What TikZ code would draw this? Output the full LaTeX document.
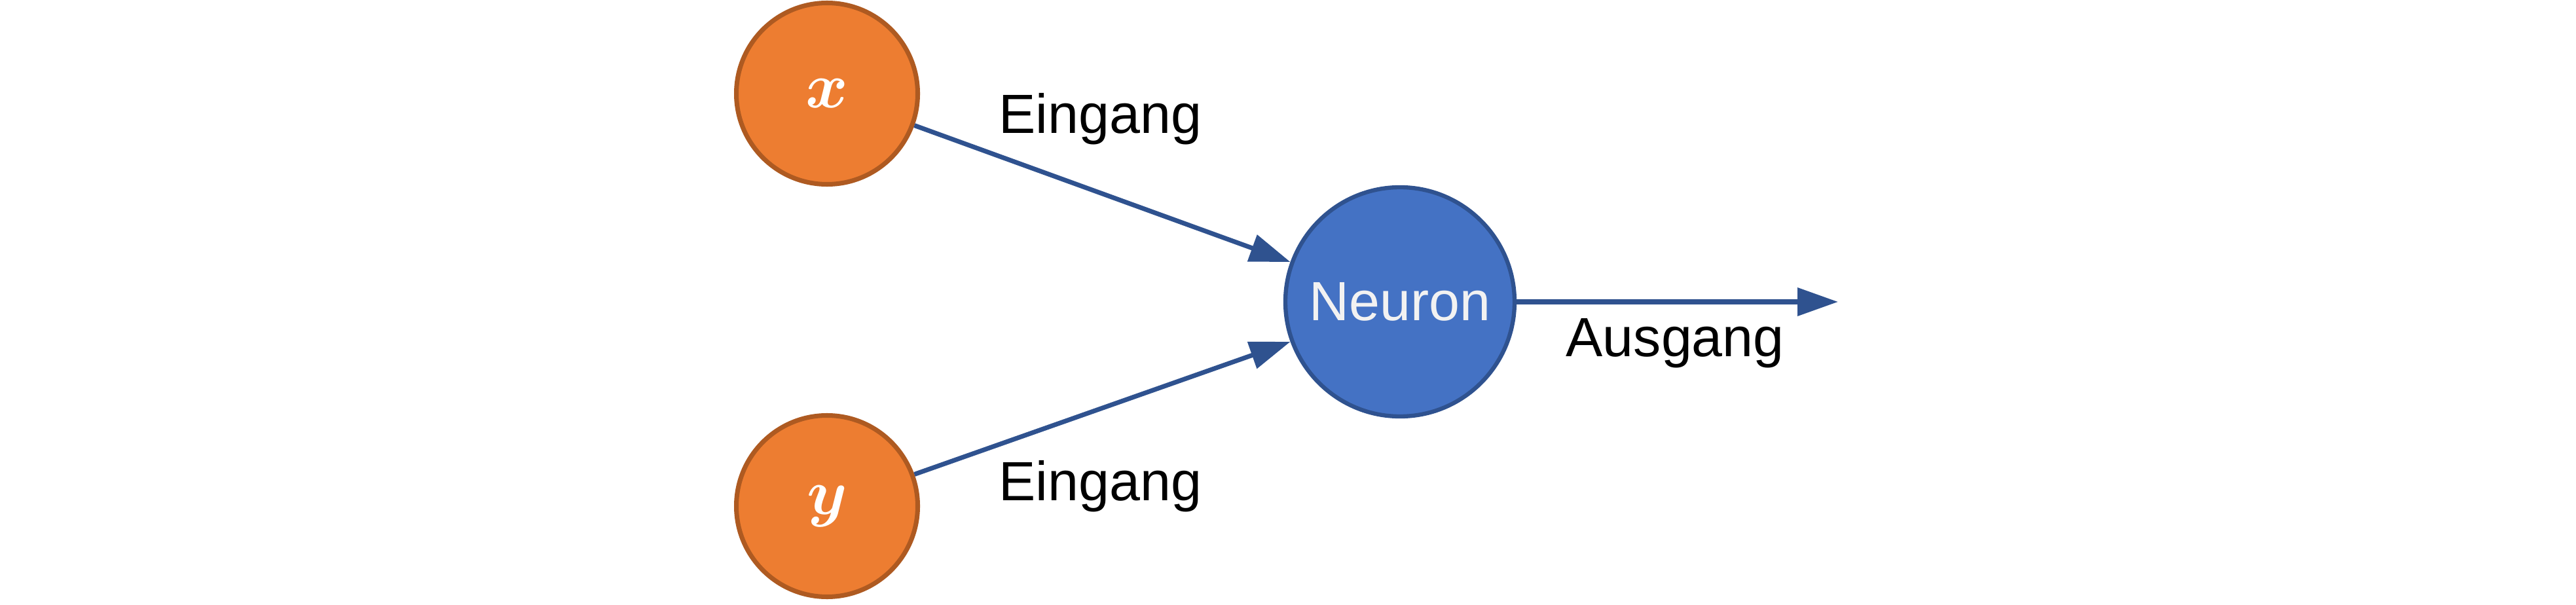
\RequirePackage{fix-cm}
\documentclass[tikz,border=0pt]{standalone}
\usepackage{fontspec}
\usepackage{bm}
\setmainfont{Liberation Sans}
\usetikzlibrary{arrows.meta}
\definecolor{orfill}{HTML}{ED7D31}
\definecolor{ordraw}{HTML}{AE5A21}
\definecolor{blfill}{HTML}{4472C4}
\definecolor{bldraw}{HTML}{2F528F}
\definecolor{offwhite}{HTML}{F2F2F2}
\begin{document}
\begin{tikzpicture}[
  inputnode/.style={circle, fill=orfill, draw=ordraw, line width=2pt, minimum size=2.77cm, inner sep=0pt, text=white, font=\fontsize{28}{32}\selectfont},
  neuronnode/.style={circle, fill=blfill, draw=bldraw, line width=1.8pt, minimum size=3.5cm, inner sep=0pt, text=offwhite, font=\fontsize{24}{28}\selectfont},
  conn/.style={draw=bldraw, line width=2pt, -{Triangle[length=0.62cm, width=0.42cm]}},
  lbl/.style={anchor=base west, inner sep=0pt, font=\fontsize{24}{28}\selectfont}
]
\useasboundingbox (0,0) rectangle (39.34,-9.24);
\node[inputnode] (x) at (12.63,-1.43) {$\bm{x}$};
\node[inputnode] (y) at (12.63,-7.73) {$\bm{y}$};
\node[neuronnode] (n) at (21.38,-4.61) {Neuron};
\coordinate (out) at (28.07,-4.61);
\draw[conn] (x.-20) -- (n.160);
\draw[conn] (y.20) -- (n.200);
\draw[conn] (n.east) -- (out);
\node[lbl] (l1) at (15.25,-2.04) {Eingang};
\node[lbl] (l2) at (15.25,-7.64) {Eingang};
\node[lbl] (l3) at (23.91,-5.44) {Ausgang};
\end{tikzpicture}
\end{document}
